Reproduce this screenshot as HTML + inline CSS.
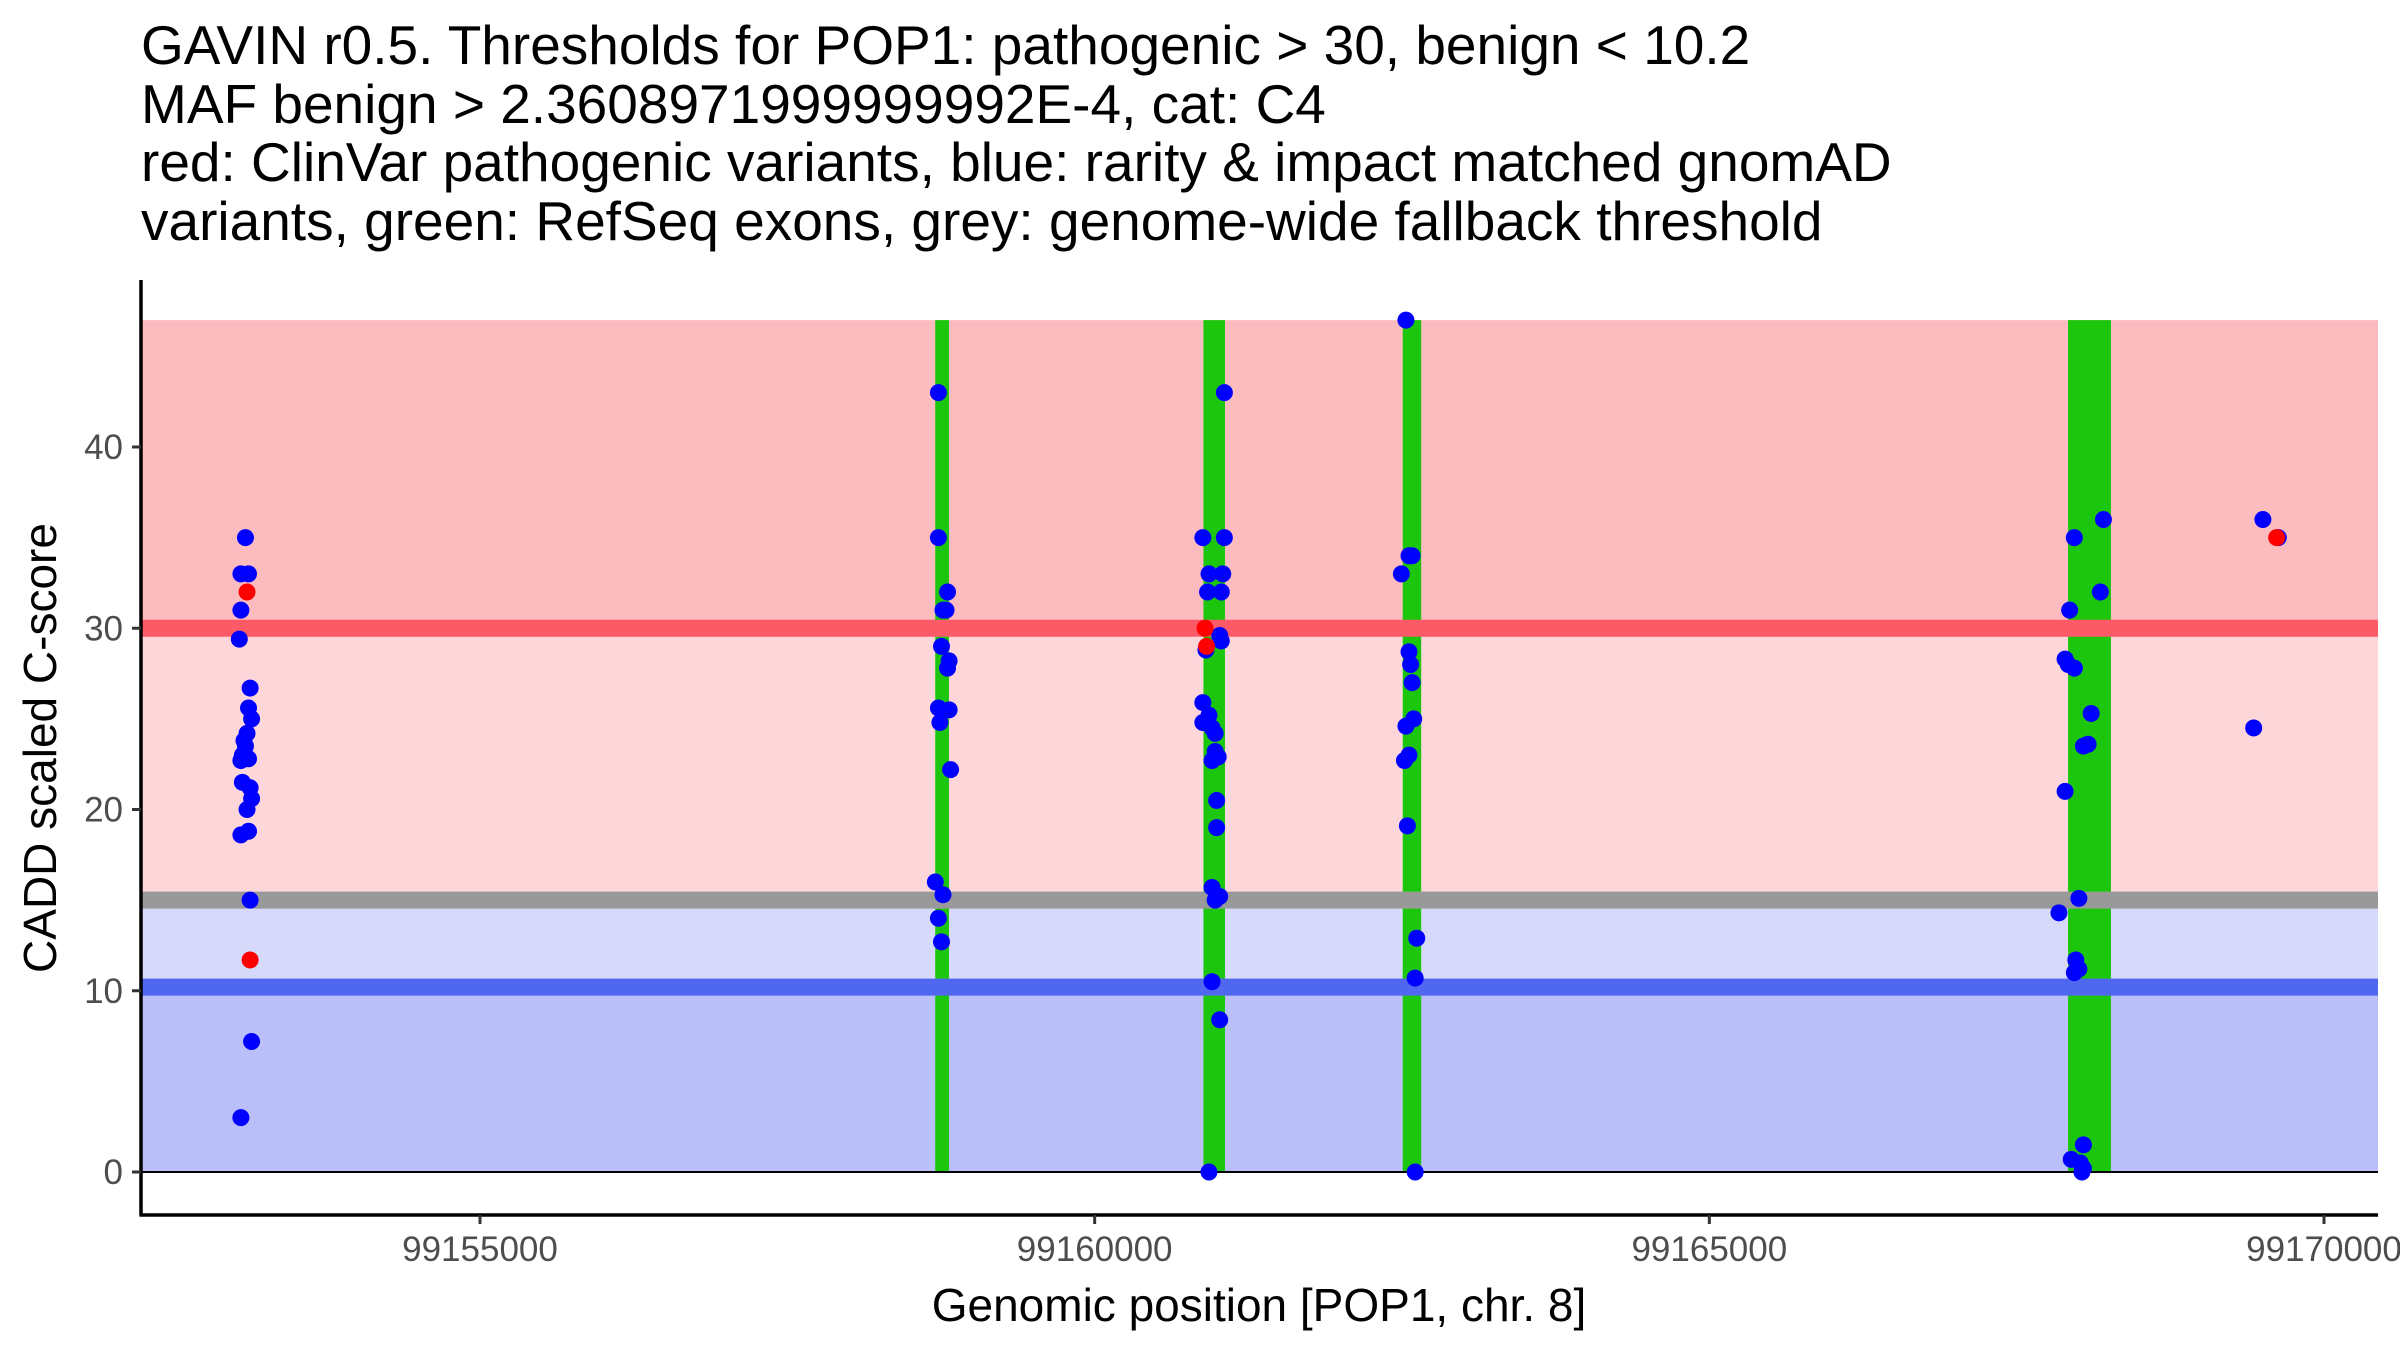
<!DOCTYPE html>
<html><head><meta charset="utf-8"><style>
html,body{margin:0;padding:0;background:#fff;}
svg{display:block;font-family:"Liberation Sans",Arial,sans-serif;}
</style></head><body>
<svg id="chart" width="2400" height="1350" viewBox="0 0 2400 1350" xmlns="http://www.w3.org/2000/svg">
<g font-size="55" fill="#000">
<text x="141" y="64">GAVIN r0.5. Thresholds for POP1: pathogenic &gt; 30, benign &lt; 10.2</text>
<text x="141" y="123">MAF benign &gt; 2.3608971999999992E-4, cat: C4</text>
<text x="141" y="181">red: ClinVar pathogenic variants, blue: rarity &amp; impact matched gnomAD</text>
<text x="141" y="240">variants, green: RefSeq exons, grey: genome-wide fallback threshold</text>
</g>
<g id="bands"></g>
<g id="exons"></g>
<g id="lines"></g>
<g id="points"></g>
<g id="axes"></g>
<text x="1259" y="1321" font-size="46" text-anchor="middle" fill="#000">Genomic position [POP1, chr. 8]</text>
<text transform="translate(56,748) rotate(-90)" font-size="46" text-anchor="middle" fill="#000">CADD scaled C-score</text>
</svg>
<script>
const xTicks = [99155000, 99160000, 99165000, 99170000];
const yTicks = [0, 10, 20, 30, 40];
const exonStarts = [99158703, 99160885, 99162506, 99167918];
const exonEnds = [99158815, 99161060, 99162656, 99168267];
const pathoThreshold = 30;
const benignThreshold = 10.2;
const fallbackThreshold = 15;
const yMax = 47;
const blueX = [
99153092,99153055,99153117,99153055,99153042,99153130,99153117,99153142,99153105,99153080,99153092,99153067,99153117,99153055,99153067,99153130,99153142,99153105,99153055,99153117,99153130,99153142,99153055,
99158729,99158729,99158803,99158766,99158791,99158754,99158816,99158803,99158729,99158816,99158741,99158828,99158704,99158766,99158729,99158754,
99161055,99160880,99161055,99160930,99161042,99160918,99161030,99161017,99161030,99160905,99160880,99160930,99160880,99160955,99160980,99160980,99161005,99160955,99160992,99160992,99160955,99161017,99160980,99160955,99161017,99160930,
99162532,99162582,99162557,99162495,99162557,99162570,99162582,99162595,99162532,99162557,99162520,99162544,99162620,99162607,99162607,
99168206,99167969,99168181,99167931,99167894,99167919,99167969,99168106,99168081,99168043,99167894,99168006,99167844,99167981,99168006,99167969,99168043,99167944,99168018,99168043,99168031,
99169503,99169628,99169428];
const blueY = [
35,33,33,31,29.4,26.7,25.6,25,24.2,23.8,23.5,23,22.8,22.7,21.5,21.2,20.6,20,18.6,18.8,15,7.2,3,
43,35,32,31,31,29,28.2,27.8,25.6,25.5,24.8,22.2,16,15.3,14,12.7,
43,35,35,33,33,32,32,29.6,29.3,28.8,25.9,25.2,24.8,24.5,24.2,23.2,22.9,22.7,20.5,19,15.7,15.2,15,10.5,8.4,0,
47,34,34,33,28.7,28,27,25,24.6,23,22.7,19.1,12.9,10.7,0,
36,35,32,31,28.3,28,27.8,25.3,23.6,23.5,21,15.1,14.3,11.7,11.2,11,1.5,0.7,0.5,0.2,0,
36,35,24.5];
const redX = [99153105, 99153130, 99160898, 99160910, 99169615];
const redY = [32, 11.7, 30, 29, 35];

const NS='http://www.w3.org/2000/svg';
const L=141,R=2378,T=280,B=1215;
const xs=v=>480+(v-99155000)*(2324-480)/15000;
const ys=v=>1172-v*(1172-447)/40;
function mk(tag,attrs,parent){const e=document.createElementNS(NS,tag);for(const k in attrs)e.setAttribute(k,attrs[k]);parent.appendChild(e);return e;}
const bands=document.getElementById('bands');
function band(y0,y1,fill,name){const e=mk('rect',{x:L,y:ys(y1),width:R-L,height:ys(y0)-ys(y1),fill:fill},bands);

}
band(pathoThreshold,yMax,'#fcbbbf','pathogenic-band');
band(fallbackThreshold,pathoThreshold,'#fdd6da','intermediate-band');
band(benignThreshold,fallbackThreshold,'#d7d9fb','fallback-band');
band(0,benignThreshold,'#babff9','benign-band');
const ex=document.getElementById('exons');
exonStarts.forEach((s,i)=>{const e=mk('rect',{x:xs(s),y:ys(yMax),width:xs(exonEnds[i])-xs(s),height:ys(0)-ys(yMax),fill:'#1cc60c'},ex);

});
const ln=document.getElementById('lines');
function hl(v,c,name){const e=mk('rect',{x:L,y:ys(v)-8.5,width:R-L,height:17,fill:c},ln);

}
hl(pathoThreshold,'#fc5a66','pathogenic-threshold-line');
hl(fallbackThreshold,'#999999','fallback-threshold-line');
hl(benignThreshold,'#5068f0','benign-threshold-line');
const zl=mk('line',{x1:L,x2:R,y1:ys(0),y2:ys(0),stroke:'#000','stroke-width':2},ln);


const pts=document.getElementById('points');
blueX.forEach((x,i)=>{const c=mk('circle',{cx:xs(x),cy:ys(blueY[i]),r:8.5,fill:'#0000ff'},pts);

});
redX.forEach((x,i)=>{const c=mk('circle',{cx:xs(x),cy:ys(redY[i]),r:8.5,fill:'#ff0000'},pts);

});
const ax=document.getElementById('axes');
const ya=mk('line',{x1:L,x2:L,y1:T,y2:B,stroke:'#000','stroke-width':3.5},ax);


const xa=mk('line',{x1:L-1.5,x2:R,y1:B,y2:B,stroke:'#000','stroke-width':3.5},ax);


yTicks.forEach(v=>{mk('line',{x1:L-9,x2:L,y1:ys(v),y2:ys(v),stroke:'#333','stroke-width':3},ax);
const t=mk('text',{x:L-18,y:ys(v)+12,'font-size':35,'text-anchor':'end',fill:'#4d4d4d'},ax);
t.textContent=v;

});
xTicks.forEach(v=>{mk('line',{x1:xs(v),x2:xs(v),y1:B,y2:B+9,stroke:'#333','stroke-width':3},ax);
const t=mk('text',{x:xs(v),y:1261,'font-size':35,'text-anchor':'middle',fill:'#4d4d4d'},ax);
t.textContent=v;

});
</script>
</body></html>
